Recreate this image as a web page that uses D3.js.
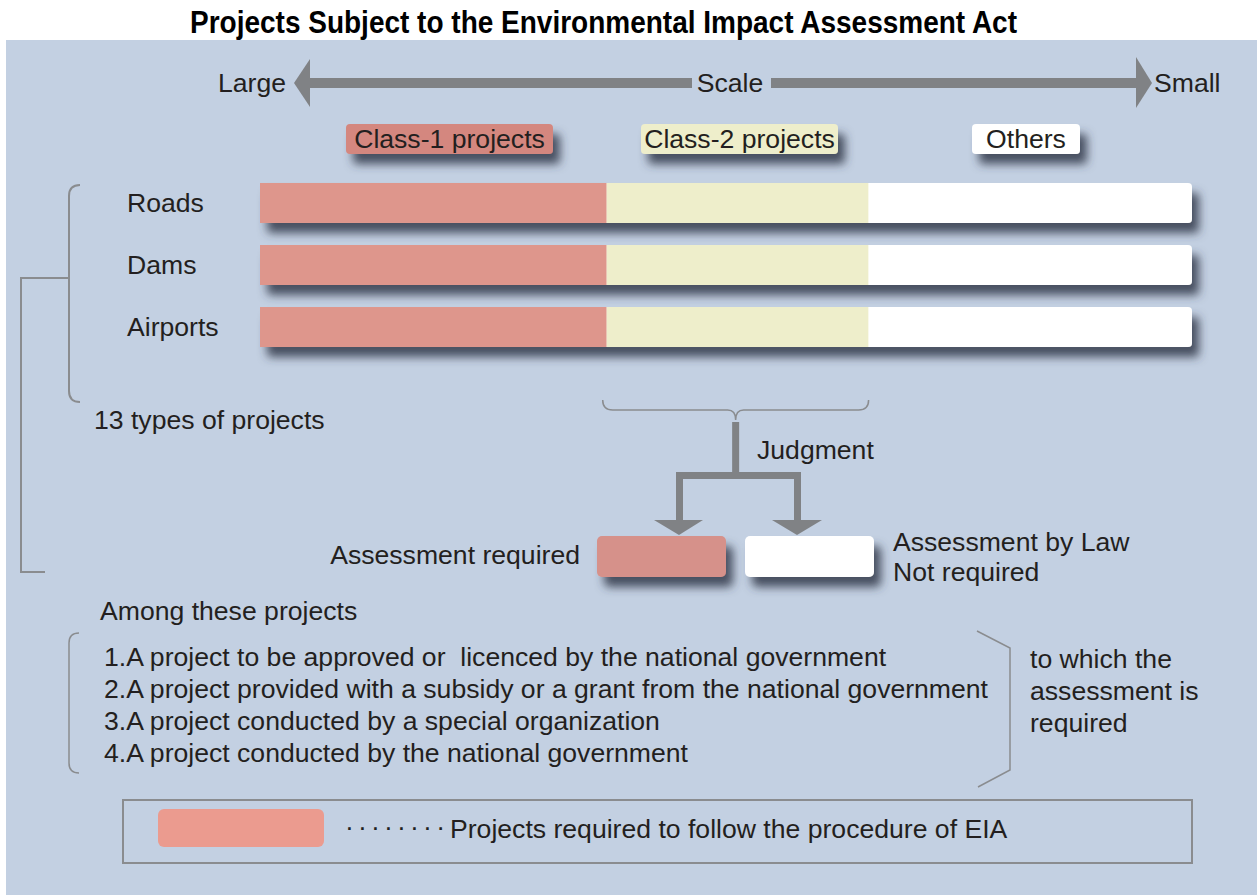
<!DOCTYPE html>
<html><head><meta charset="utf-8">
<script src="https://cdn.jsdelivr.net/npm/d3@7/dist/d3.min.js"></script>
<style>
html,body{margin:0;padding:0;background:#fff;}
svg text{font-family:"Liberation Sans",Arial,Helvetica,sans-serif;fill:#231f20;white-space:pre;}
</style></head>
<body><svg id="c" width="1257" height="895"></svg>
<script>
const title = "Projects Subject to the Environmental Impact Assessment Act";
const categories = ["Roads", "Dams", "Airports"];
const classes = ["Class-1 projects", "Class-2 projects", "Others"];
const classShares = [37.2, 28.1, 34.7];   // relative scale widths
const classColors = ["#de968c", "#eeeecb", "#ffffff"];
const labelColors = ["#d4877f", "#eeeecb", "#ffffff"];
const conditions = [
  "1.A project to be approved or  licenced by the national government",
  "2.A project provided with a subsidy or a grant from the national government",
  "3.A project conducted by a special organization",
  "4.A project conducted by the national government"
];
const sideNote = ["to which the", "assessment is", "required"];
const outcomes = ["Assessment required", "Assessment by Law|Not required"];

const FS = 26.6;
const svg = d3.select("#c");
const defs = svg.append("defs");
const f = defs.append("filter").attr("id","sh").attr("x","-10%").attr("y","-30%").attr("width","130%").attr("height","220%");
f.append("feDropShadow").attr("dx",7).attr("dy",10).attr("stdDeviation",5).attr("flood-color","#333a4c").attr("flood-opacity",0.85);

// panel
svg.append("rect").attr("x",6).attr("y",40).attr("width",1251).attr("height",855).attr("fill","#c3d0e2");

// title
svg.append("text").attr("x",190).attr("y",33).attr("font-size",32).attr("font-weight","bold")
  .attr("textLength",827).attr("lengthAdjust","spacingAndGlyphs").style("fill","#000").text(title);

const gray = "#808285";
// scale arrow
svg.append("rect").attr("x",306).attr("y",78).attr("width",386).attr("height",10).attr("fill",gray);
svg.append("rect").attr("x",771).attr("y",78).attr("width",368).attr("height",10).attr("fill",gray);
svg.append("path").attr("d","M294,83 L310,59 L310,107 Z").attr("fill",gray);
svg.append("path").attr("d","M1152,83 L1136,57 L1136,108 Z").attr("fill",gray);
svg.append("text").attr("x",218).attr("y",92).attr("font-size",FS).text("Large");
svg.append("text").attr("x",730).attr("y",92).attr("font-size",FS).attr("text-anchor","middle").text("Scale");
svg.append("text").attr("x",1154).attr("y",92).attr("font-size",FS).text("Small");

// scales
const x = d3.scaleLinear().domain([0, d3.sum(classShares)]).range([260, 1192]);
const y = d3.scaleBand().domain(categories).range([172, 358]).paddingInner(0.355).paddingOuter(0.177);
const cum = d3.cumsum(classShares);
const segs = classShares.map((v,i)=>({cls:classes[i], x0: cum[i]-v, x1: cum[i], color: classColors[i]}));

// class labels
const labelW = [207, 197, 108];
const labelX = [346, 641, 972];
svg.selectAll(".lab").data(classes).join("g").attr("class","lab").each(function(d,i){
  const g = d3.select(this);
  g.append("rect").attr("x",labelX[i]).attr("y",124).attr("width",labelW[i]).attr("height",30).attr("rx",4)
    .attr("fill",labelColors[i]).attr("filter","url(#sh)");
  g.append("text").attr("x",labelX[i]+labelW[i]/2).attr("y",148).attr("font-size",FS).attr("text-anchor","middle").text(d);
});

// bars
categories.forEach(cat=>{
  const g = svg.append("g");
  const y0 = y(cat), h = y.bandwidth();
  g.append("rect").attr("x",x(0)).attr("y",y0).attr("width",x(d3.sum(classShares))-x(0)).attr("height",h)
    .attr("rx",4).attr("fill","#fff").attr("filter","url(#sh)");
  g.selectAll("rect.s").data(segs).join("rect").attr("class","s")
    .attr("x",d=>x(d.x0)).attr("y",y0).attr("width",d=>x(d.x1)-x(d.x0) - (d.x1===d3.sum(classShares)?4:0)).attr("height",h).attr("fill",d=>d.color);
  svg.append("text").attr("x",127).attr("y",y0+h/2+9).attr("font-size",FS).text(cat);
});

const lg = "#8a8c8f";
// left bracket
svg.append("path").attr("d","M80,185 Q69,185 69,196 L69,391 Q69,402 80,402").attr("fill","none").attr("stroke",lg).attr("stroke-width",2);
svg.append("path").attr("d","M69,278 L21,278 L21,572 L45,572").attr("fill","none").attr("stroke",lg).attr("stroke-width",2);
svg.append("text").attr("x",94).attr("y",429).attr("font-size",FS).text("13 types of projects");

// brace under class-2
const bx0 = x(segs[1].x0)-4, bx1 = x(segs[1].x1), bm = (bx0+bx1)/2;
svg.append("path").attr("d",`M${bx0},400 Q${bx0},410 ${bx0+10},410 L${bm-8},410 Q${bm},410 ${bm},420 Q${bm},410 ${bm+8},410 L${bx1-10},410 Q${bx1},410 ${bx1},400`)
  .attr("fill","none").attr("stroke",lg).attr("stroke-width",1.5);
// judgment arrows
const pa = gray;
svg.append("rect").attr("x",bm-3.5).attr("y",422).attr("width",7).attr("height",55).attr("fill",pa);
svg.append("rect").attr("x",676).attr("y",472).attr("width",125).attr("height",7).attr("fill",pa);
svg.append("rect").attr("x",676).attr("y",472).attr("width",7).attr("height",50).attr("fill",pa);
svg.append("rect").attr("x",794).attr("y",472).attr("width",7).attr("height",50).attr("fill",pa);
svg.append("path").attr("d","M654,520 L703,520 L679,535 Z").attr("fill",pa);
svg.append("path").attr("d","M772,520 L822,520 L797,535 Z").attr("fill",pa);
svg.append("text").attr("x",757).attr("y",459).attr("font-size",FS).text("Judgment");

// outcome boxes
svg.append("rect").attr("x",597).attr("y",536).attr("width",129).attr("height",41).attr("rx",5).attr("fill","#d6918a").attr("filter","url(#sh)");
svg.append("rect").attr("x",745).attr("y",536).attr("width",129).attr("height",41).attr("rx",5).attr("fill","#ffffff").attr("filter","url(#sh)");
svg.append("text").attr("x",580).attr("y",564).attr("font-size",FS).attr("text-anchor","end").text(outcomes[0]);
outcomes[1].split("|").forEach((t,i)=>svg.append("text").attr("x",893).attr("y",551+i*30).attr("font-size",FS).text(t));

// conditions
svg.append("text").attr("x",100).attr("y",620).attr("font-size",FS).text("Among these projects");
svg.append("path").attr("d","M79,633 Q69,633 69,643 L69,763 Q69,773 79,773").attr("fill","none").attr("stroke",lg).attr("stroke-width",1.5);
conditions.forEach((t,i)=>svg.append("text").attr("x",104).attr("y",666+i*32).attr("font-size",FS).text(t));
svg.append("path").attr("d","M977,631 L1010,648 L1010,770 L978,787").attr("fill","none").attr("stroke",lg).attr("stroke-width",1.5);
sideNote.forEach((t,i)=>svg.append("text").attr("x",1030).attr("y",668+i*32).attr("font-size",FS).text(t));

// legend
svg.append("rect").attr("x",123).attr("y",800).attr("width",1069).attr("height",63).attr("fill","none").attr("stroke",lg).attr("stroke-width",2);
svg.append("rect").attr("x",158).attr("y",809).attr("width",166).attr("height",38).attr("rx",6).attr("fill","#eb9b8f");
svg.append("text").attr("x",345).attr("y",836).attr("font-size",FS).attr("textLength",100).attr("lengthAdjust","spacing").text("········");
svg.append("text").attr("x",450).attr("y",838).attr("font-size",FS).text("Projects required to follow the procedure of EIA");
</script></body></html>
